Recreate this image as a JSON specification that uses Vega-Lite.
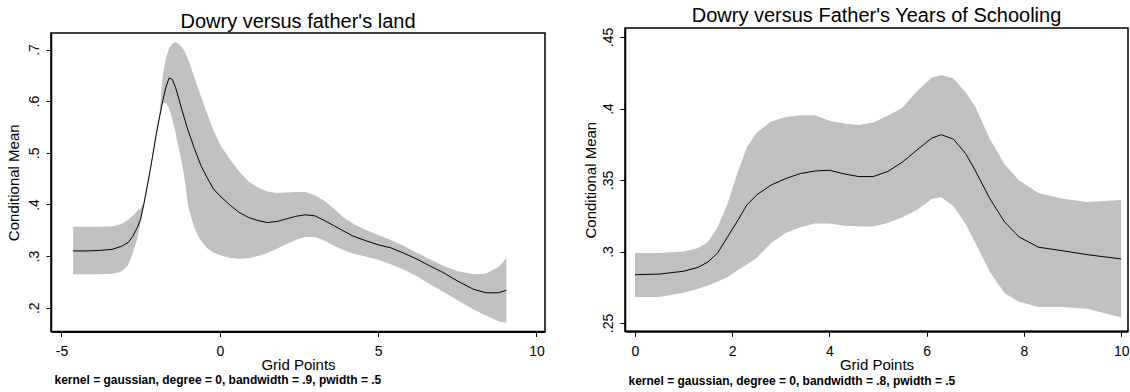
{
  "$schema": "https://vega.github.io/schema/vega-lite/v6.json",
  "background": "white",
  "padding": {"left": 5, "top": 4, "right": 0, "bottom": 0},
  "spacing": 36,
  "datasets": {
    "land": [
      {"x": -4.63, "m": 0.310, "lo": 0.265, "hi": 0.357},
      {"x": -4.2, "m": 0.310, "lo": 0.265, "hi": 0.357},
      {"x": -3.8, "m": 0.311, "lo": 0.265, "hi": 0.357},
      {"x": -3.4, "m": 0.313, "lo": 0.266, "hi": 0.358},
      {"x": -3.1, "m": 0.319, "lo": 0.270, "hi": 0.362},
      {"x": -2.9, "m": 0.326, "lo": 0.282, "hi": 0.370},
      {"x": -2.75, "m": 0.338, "lo": 0.305, "hi": 0.378},
      {"x": -2.6, "m": 0.356, "lo": 0.335, "hi": 0.388},
      {"x": -2.5, "m": 0.372, "lo": 0.365, "hi": 0.392},
      {"x": -2.4, "m": 0.400, "lo": 0.397, "hi": 0.405},
      {"x": -2.2, "m": 0.465, "lo": 0.462, "hi": 0.470},
      {"x": -2.0, "m": 0.538, "lo": 0.535, "hi": 0.545},
      {"x": -1.9, "m": 0.570, "lo": 0.567, "hi": 0.578},
      {"x": -1.8, "m": 0.601, "lo": 0.597, "hi": 0.650},
      {"x": -1.7, "m": 0.627, "lo": 0.597, "hi": 0.683},
      {"x": -1.6, "m": 0.645, "lo": 0.587, "hi": 0.703},
      {"x": -1.5, "m": 0.642, "lo": 0.565, "hi": 0.711},
      {"x": -1.4, "m": 0.627, "lo": 0.540, "hi": 0.714},
      {"x": -1.3, "m": 0.606, "lo": 0.510, "hi": 0.711},
      {"x": -1.2, "m": 0.584, "lo": 0.482, "hi": 0.705},
      {"x": -1.1, "m": 0.563, "lo": 0.445, "hi": 0.695},
      {"x": -1.0, "m": 0.543, "lo": 0.397, "hi": 0.681},
      {"x": -0.8, "m": 0.508, "lo": 0.354, "hi": 0.646},
      {"x": -0.6, "m": 0.476, "lo": 0.330, "hi": 0.610},
      {"x": -0.4, "m": 0.452, "lo": 0.315, "hi": 0.576},
      {"x": -0.2, "m": 0.430, "lo": 0.307, "hi": 0.543},
      {"x": 0.0, "m": 0.417, "lo": 0.302, "hi": 0.517},
      {"x": 0.3, "m": 0.400, "lo": 0.297, "hi": 0.489},
      {"x": 0.6, "m": 0.385, "lo": 0.295, "hi": 0.465},
      {"x": 0.9, "m": 0.375, "lo": 0.296, "hi": 0.445},
      {"x": 1.2, "m": 0.369, "lo": 0.300, "hi": 0.433},
      {"x": 1.5, "m": 0.365, "lo": 0.306, "hi": 0.425},
      {"x": 1.8, "m": 0.367, "lo": 0.314, "hi": 0.422},
      {"x": 2.1, "m": 0.372, "lo": 0.323, "hi": 0.423},
      {"x": 2.4, "m": 0.377, "lo": 0.331, "hi": 0.424},
      {"x": 2.7, "m": 0.380, "lo": 0.337, "hi": 0.424},
      {"x": 3.0, "m": 0.378, "lo": 0.337, "hi": 0.418},
      {"x": 3.3, "m": 0.369, "lo": 0.330, "hi": 0.407},
      {"x": 3.6, "m": 0.359, "lo": 0.320, "hi": 0.392},
      {"x": 3.9, "m": 0.349, "lo": 0.312, "hi": 0.375},
      {"x": 4.2, "m": 0.339, "lo": 0.305, "hi": 0.363},
      {"x": 4.6, "m": 0.330, "lo": 0.299, "hi": 0.351},
      {"x": 5.0, "m": 0.322, "lo": 0.293, "hi": 0.341},
      {"x": 5.4, "m": 0.316, "lo": 0.284, "hi": 0.331},
      {"x": 5.8, "m": 0.306, "lo": 0.274, "hi": 0.320},
      {"x": 6.2, "m": 0.295, "lo": 0.262, "hi": 0.307},
      {"x": 6.6, "m": 0.282, "lo": 0.247, "hi": 0.295},
      {"x": 7.0, "m": 0.270, "lo": 0.233, "hi": 0.283},
      {"x": 7.5, "m": 0.252, "lo": 0.215, "hi": 0.271},
      {"x": 8.0, "m": 0.236, "lo": 0.197, "hi": 0.265},
      {"x": 8.4, "m": 0.229, "lo": 0.185, "hi": 0.266},
      {"x": 8.8, "m": 0.229, "lo": 0.174, "hi": 0.279},
      {"x": 9.05, "m": 0.234, "lo": 0.171, "hi": 0.296}
    ],
    "school": [
      {"x": 0.0, "m": 0.2838, "lo": 0.2682, "hi": 0.2990},
      {"x": 0.5, "m": 0.2842, "lo": 0.2682, "hi": 0.2990},
      {"x": 1.0, "m": 0.2862, "lo": 0.2712, "hi": 0.3000},
      {"x": 1.3, "m": 0.2890, "lo": 0.2740, "hi": 0.3025},
      {"x": 1.5, "m": 0.2927, "lo": 0.2763, "hi": 0.3066},
      {"x": 1.7, "m": 0.2990, "lo": 0.2790, "hi": 0.3170},
      {"x": 1.9, "m": 0.3100, "lo": 0.2820, "hi": 0.3330},
      {"x": 2.1, "m": 0.3210, "lo": 0.2868, "hi": 0.3540},
      {"x": 2.3, "m": 0.3325, "lo": 0.2910, "hi": 0.3730},
      {"x": 2.5, "m": 0.3395, "lo": 0.2955, "hi": 0.3830},
      {"x": 2.8, "m": 0.3465, "lo": 0.3060, "hi": 0.3910},
      {"x": 3.1, "m": 0.3510, "lo": 0.3130, "hi": 0.3940},
      {"x": 3.4, "m": 0.3545, "lo": 0.3170, "hi": 0.3952},
      {"x": 3.7, "m": 0.3563, "lo": 0.3195, "hi": 0.3952},
      {"x": 4.0, "m": 0.3568, "lo": 0.3195, "hi": 0.3915},
      {"x": 4.3, "m": 0.3543, "lo": 0.3180, "hi": 0.3895},
      {"x": 4.6, "m": 0.3524, "lo": 0.3175, "hi": 0.3885},
      {"x": 4.9, "m": 0.3524, "lo": 0.3175, "hi": 0.3903},
      {"x": 5.2, "m": 0.3560, "lo": 0.3200, "hi": 0.3950},
      {"x": 5.5, "m": 0.3625, "lo": 0.3240, "hi": 0.4005},
      {"x": 5.8, "m": 0.3710, "lo": 0.3290, "hi": 0.4120},
      {"x": 6.1, "m": 0.3792, "lo": 0.3368, "hi": 0.4215},
      {"x": 6.3, "m": 0.3817, "lo": 0.3380, "hi": 0.4235},
      {"x": 6.55, "m": 0.3786, "lo": 0.3318, "hi": 0.4210},
      {"x": 6.8, "m": 0.3685, "lo": 0.3193, "hi": 0.4114},
      {"x": 7.0, "m": 0.3565, "lo": 0.3060, "hi": 0.4010},
      {"x": 7.3, "m": 0.3369, "lo": 0.2857, "hi": 0.3787},
      {"x": 7.6, "m": 0.3207, "lo": 0.2710, "hi": 0.3610},
      {"x": 7.9, "m": 0.3102, "lo": 0.2648, "hi": 0.3497},
      {"x": 8.3, "m": 0.3030, "lo": 0.2612, "hi": 0.3410},
      {"x": 8.8, "m": 0.3005, "lo": 0.2612, "hi": 0.3369},
      {"x": 9.3, "m": 0.2978, "lo": 0.2600, "hi": 0.3346},
      {"x": 10.0, "m": 0.2948, "lo": 0.2538, "hi": 0.3360}
    ]
  },
  "hconcat": [
    {
      "spacing": 6,
      "vconcat": [
        {"width": 1, "height": 1, "view": {"stroke": null}, "data": {"values": []}, "mark": "point", "encoding": {}},
        {
          "width": 494,
          "height": 298.5,
          "title": {"text": "Dowry versus father's land"},
          "data": {"name": "land"},
          "resolve": {"axis": {"x": "independent"}},
          "layer": [
            {
              "mark": {"type": "area", "color": "#c0c0c0", "opacity": 1},
              "encoding": {
                "x": {"field": "x", "type": "quantitative",
                  "scale": {"domain": [-5.33, 10.27], "nice": false, "zero": false},
                  "axis": {"values": [-5, 0, 5, 10], "labelExpr": "'' + datum.value", "title": "Grid Points", "titleY": 38, "titleBaseline": "alphabetic", "labelPadding": 8, "tickSize": 5, "domainWidth": 2, "labelFlush": false, "labelOverlap": false}},
                "y": {"field": "lo", "type": "quantitative",
                  "scale": {"domain": [0.154, 0.732], "nice": false, "zero": false},
                  "axis": {"values": [0.2, 0.3, 0.4, 0.5, 0.6, 0.7], "title": "Conditional Mean", "labelAngle": -90, "labelExpr": "substring(format(datum.value, '.2~f'), 1)", "labelPadding": 5, "titlePadding": 6, "tickSize": 5, "domainWidth": 1.5, "labelOverlap": false}},
                "y2": {"field": "hi"}
              }
            },
            {
              "mark": {"type": "line", "color": "black", "strokeWidth": 1},
              "encoding": {
                "x": {"field": "x", "type": "quantitative",
                  "axis": {"orient": "bottom", "labels": false, "ticks": false, "domain": false, "grid": false, "title": "kernel = gaussian, degree = 0, bandwidth = .9, pwidth = .5", "titleFontSize": 12, "titleFontWeight": "bold", "titleAnchor": "start", "titleAlign": "left", "titleX": 3, "titleY": 52, "titleBaseline": "alphabetic"}},
                "y": {"field": "m", "type": "quantitative",
                  "axis": {"values": [0.2, 0.3, 0.4, 0.5, 0.6, 0.7], "title": "Conditional Mean", "labelAngle": -90, "labelExpr": "substring(format(datum.value, '.2~f'), 1)", "labelPadding": 5, "titlePadding": 6, "tickSize": 5, "domainWidth": 1.5, "labelOverlap": false}}
              }
            }
          ]
        }
      ]
    },
    {
      "spacing": 0,
      "vconcat": [
        {"width": 1, "height": 1, "view": {"stroke": null}, "data": {"values": []}, "mark": "point", "encoding": {}},
        {
          "width": 503,
          "height": 303.3,
          "title": {"text": "Dowry versus Father's Years of Schooling"},
          "data": {"name": "school"},
          "resolve": {"axis": {"x": "independent"}},
          "layer": [
            {
              "mark": {"type": "area", "color": "#c0c0c0", "opacity": 1},
              "encoding": {
                "x": {"field": "x", "type": "quantitative",
                  "scale": {"domain": [-0.206, 10.14], "nice": false, "zero": false},
                  "axis": {"values": [0, 2, 4, 6, 8, 10], "title": "Grid Points", "titleY": 38, "titleBaseline": "alphabetic", "labelPadding": 8, "tickSize": 5, "domainWidth": 2, "labelFlush": false, "labelOverlap": false}},
                "y": {"field": "lo", "type": "quantitative",
                  "scale": {"domain": [0.2442, 0.4563], "nice": false, "zero": false},
                  "axis": {"values": [0.25, 0.3, 0.35, 0.4, 0.45], "title": "Conditional Mean", "labelAngle": -90, "labelExpr": "substring(format(datum.value, '.2~f'), 1)", "labelPadding": 5, "titlePadding": 3, "tickSize": 5, "domainWidth": 1.5, "labelOverlap": false}},
                "y2": {"field": "hi"}
              }
            },
            {
              "mark": {"type": "line", "color": "black", "strokeWidth": 1},
              "encoding": {
                "x": {"field": "x", "type": "quantitative",
                  "axis": {"orient": "bottom", "labels": false, "ticks": false, "domain": false, "grid": false, "title": "kernel = gaussian, degree = 0, bandwidth = .8, pwidth = .5", "titleFontSize": 12, "titleFontWeight": "bold", "titleAnchor": "start", "titleAlign": "left", "titleX": 3, "titleY": 53, "titleBaseline": "alphabetic"}},
                "y": {"field": "m", "type": "quantitative",
                  "axis": {"values": [0.25, 0.3, 0.35, 0.4, 0.45], "title": "Conditional Mean", "labelAngle": -90, "labelExpr": "substring(format(datum.value, '.2~f'), 1)", "labelPadding": 5, "titlePadding": 3, "tickSize": 5, "domainWidth": 1.5, "labelOverlap": false}}
              }
            }
          ]
        }
      ]
    }
  ],
  "config": {
    "font": "Liberation Sans",
    "view": {"stroke": "black", "strokeWidth": 1.5},
    "title": {"fontSize": 20, "fontWeight": "normal", "font": "Liberation Sans", "color": "black", "offset": 1, "anchor": "middle"},
    "axis": {"grid": false, "domainColor": "black", "tickColor": "black", "labelColor": "black", "titleColor": "black", "labelFont": "Liberation Sans", "titleFont": "Liberation Sans", "labelFontSize": 14, "titleFontSize": 15, "titleFontWeight": "normal"}
  }
}
